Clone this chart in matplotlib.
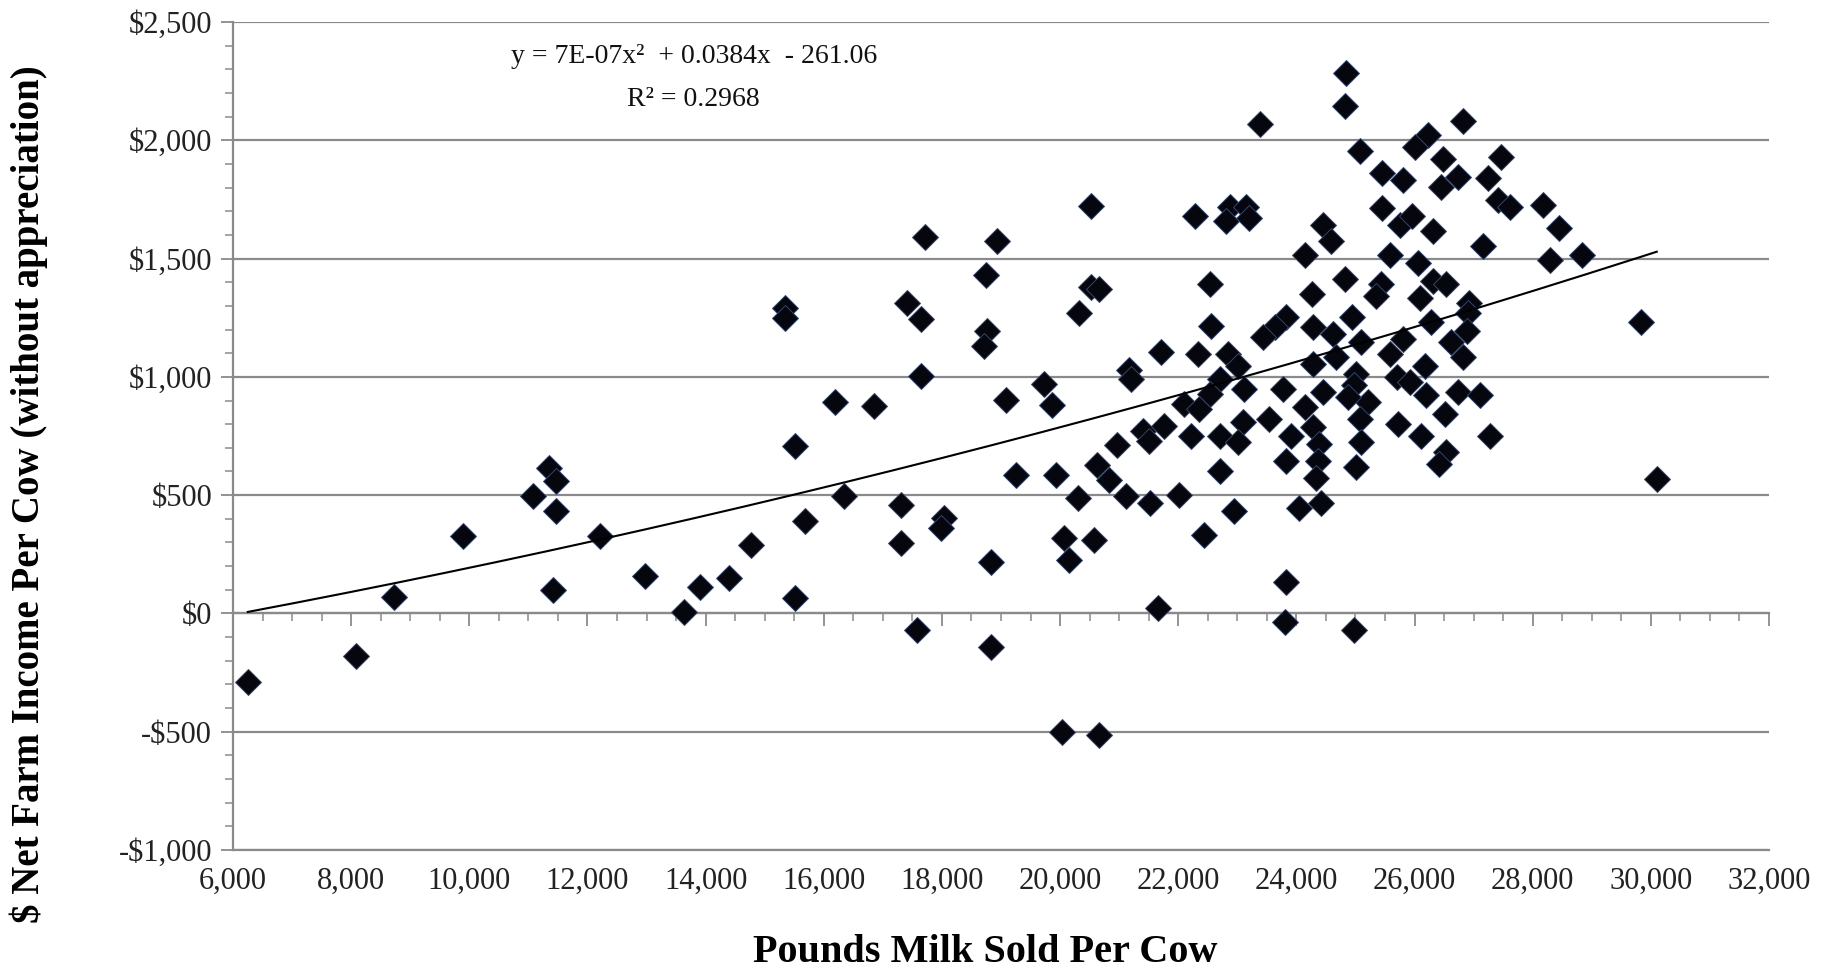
import matplotlib
matplotlib.use('Agg')
import matplotlib.pyplot as plt
import numpy as np
from matplotlib.ticker import MultipleLocator, FuncFormatter

plt.rcParams['font.family'] = ['Liberation Serif', 'DejaVu Serif']

# pounds of milk sold per cow
milk_lbs = [
    6250, 8080, 8720, 9900, 11080, 11350, 11460, 11460, 11420, 12210,
    12980, 13630, 13910, 14390, 14760, 15350, 15350, 15510, 15520, 15690,
    16190, 16340, 16850, 17300, 17300, 17410, 17640, 17580, 17640, 17720,
    18030, 17980, 18740, 18770, 18710, 18830, 18830, 18940, 19080, 19250,
    19730, 19870, 19930, 20070, 20150, 20040, 20660, 20300, 20320, 20520,
    20520, 20660, 20580, 20630, 20830, 20970, 21110, 21170, 21200, 21400,
    21500, 21530, 21700, 21650, 21760,
    22290, 22880, 22810, 23150, 23200, 23390, 24840, 24830, 25080, 25450,
    25800, 24450, 24590, 25450, 25750, 24140, 25580, 22530, 24830, 24260,
    25440, 25350, 22550, 23830, 23630, 23430, 24280, 24940, 24620, 25100,
    22330, 22840, 23010, 22710, 24280, 24670, 25580, 25010, 25700, 23120,
    23770, 24450, 24980, 22530, 22100, 22360, 24140, 25210, 24870, 22220,
    22700, 23090, 23540, 23010, 23910, 24280, 24390, 25070, 25100, 25720,
    23830, 24360, 24330, 25010, 22700, 22020, 22950, 24050, 24420, 22440,
    23830, 23800, 24980,
    26820, 26230, 26000, 26480, 27470, 26740, 26450, 27240, 27410, 27610,
    28180, 28450, 25950, 26310, 27160, 28290, 28830, 26060, 26310, 26540,
    26090, 26930, 26900, 26280, 25800, 26620, 26880, 26820, 26170, 29840,
    25920, 26200, 26740, 27100, 26510, 26110, 27270, 26540, 26420, 30100,
]

# net farm income per cow ($, without appreciation)
net_income = [
    -290, -180, 70, 327, 495, 615, 560, 433, 99, 327,
    160, 8, 113, 149, 290, 1292, 1250, 706, 64, 389,
    894, 495, 876, 459, 297, 1311, 1243, -70, 1003, 1593,
    403, 360, 1429, 1194, 1130, 219, -141, 1575, 904, 586,
    968, 883, 586, 318, 226, -503, -513, 488, 1271, 1723,
    1381, 1370, 311, 629, 565, 713, 495, 1031, 989, 770,
    730, 467, 1104, 22, 794,
    1678, 1720, 1657, 1716, 1671, 2070, 2286, 2147, 1954, 1860,
    1832, 1643, 1573, 1713, 1643, 1517, 1517, 1391, 1412, 1352,
    1391, 1342, 1216, 1254, 1209, 1167, 1209, 1251, 1181, 1146,
    1097, 1097, 1048, 990, 1055, 1083, 1097, 1013, 1000, 950,
    950, 936, 965, 929, 886, 865, 872, 893, 915, 752,
    752, 808, 823, 723, 752, 787, 716, 823, 723, 801,
    645, 645, 574, 617, 602, 499, 432, 446, 467, 332,
    134, -36, -72,
    2080, 2021, 1972, 1923, 1930, 1846, 1804, 1839, 1748, 1720,
    1727, 1629, 1678, 1615, 1552, 1496, 1517, 1482, 1405, 1391,
    1335, 1314, 1272, 1230, 1160, 1146, 1195, 1083, 1048, 1230,
    979, 922, 936, 922, 844, 752, 752, 681, 631, 567,
]

# trendline coefficients as printed on the chart
trend_a, trend_b, trend_c = 7e-07, 0.0384, -261.06
r_squared = 0.2968

grid_gray = '#8a8a8a'

fig = plt.figure(figsize=(18.43, 9.72), dpi=100)
ax = fig.add_axes([233 / 1843, 122 / 972, 1536 / 1843, 828 / 972])

ax.plot(milk_lbs, net_income, linestyle='none', marker='D', ms=13.5,
        mfc='#06060e', mec='#34466e', mew=0.7, zorder=3)

tx = np.linspace(min(milk_lbs), max(milk_lbs), 200)
ax.plot(tx, trend_a * tx ** 2 + trend_b * tx + trend_c, color='black', lw=1.5, zorder=4)

ax.set_xlim(6000, 32000)
ax.set_ylim(-1000, 2500)

ax.set_yticks(np.arange(-1000, 2501, 500))
ax.yaxis.set_minor_locator(MultipleLocator(100))
ax.yaxis.set_major_formatter(FuncFormatter(lambda v, _: f'-${abs(v):,.0f}' if v < 0 else f'${v:,.0f}'))
ax.set_xticks(np.arange(6000, 32001, 2000))
ax.xaxis.set_major_formatter(FuncFormatter(lambda v, _: f'{v:,.0f}'))

ax.grid(axis='y', color=grid_gray, lw=1.6)
ax.set_axisbelow(True)
for s in ['top', 'right']:
    ax.spines[s].set_visible(False)
ax.spines['left'].set_color(grid_gray)
ax.spines['left'].set_linewidth(1.6)
ax.spines['bottom'].set_color(grid_gray)
ax.spines['bottom'].set_linewidth(1.6)

ax.tick_params(axis='y', which='major', length=9, width=1.3, color=grid_gray,
               labelsize=22, pad=6, labelcolor='#222222')
ax.tick_params(axis='y', which='minor', length=6, width=1.1, color=grid_gray)
ax.tick_params(axis='x', which='major', length=0, labelsize=22, pad=12, labelcolor='#222222')

# horizontal axis crosses at $0
sec = ax.secondary_xaxis(1000 / 3500)
sec.set_xticks(np.arange(6000, 32001, 2000))
sec.xaxis.set_minor_locator(MultipleLocator(500))
sec.tick_params(which='major', direction='out', length=9, width=1.3, color=grid_gray, labelbottom=False)
sec.tick_params(which='minor', direction='out', length=6, width=1.1, color=grid_gray)
sec.spines['bottom'].set_color(grid_gray)
sec.spines['bottom'].set_linewidth(1.6)
sec.set_zorder(1)

ax.text(0.30, 0.958, f'y = 7E-07x\u00b2  + {trend_b}x  - {abs(trend_c)}', transform=ax.transAxes,
        ha='center', va='center', fontsize=20, color='#111111')
ax.text(0.30, 0.907, f'R\u00b2 = {r_squared}', transform=ax.transAxes,
        ha='center', va='center', fontsize=20, color='#111111')

fig.text(985 / 1843, 1 - 952 / 972, 'Pounds Milk Sold Per Cow', ha='center', va='center',
         fontsize=29, fontweight='bold')
fig.text(29 / 1843, 1 - 494 / 972, '$ Net Farm Income Per Cow (without appreciation)',
         ha='center', va='center', rotation=90, fontsize=28, fontweight='bold')

fig.savefig('out.png', dpi=100, facecolor='white')
